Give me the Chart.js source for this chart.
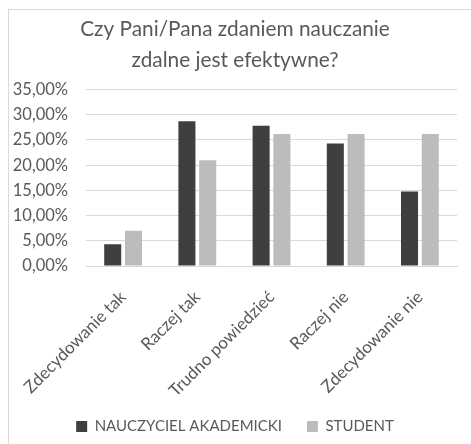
<!DOCTYPE html>
<html>
<head>
<meta charset="utf-8">
<script src="https://cdn.jsdelivr.net/npm/chart.js@4/dist/chart.umd.min.js"></script>
<style>
html,body{margin:0;padding:0;background:#fff;}
#wrap{width:471px;height:444px;position:relative;}
</style>
</head>
<body>
<div id="wrap"><canvas id="c" width="471" height="444"></canvas></div>
<script>
const categories = ["Zdecydowanie tak", "Raczej tak", "Trudno powiedzieć", "Raczej nie", "Zdecydowanie nie"];
const teacherValues = [4.3, 28.7, 27.8, 24.3, 14.8];
const studentValues = [7.0, 21.0, 26.2, 26.2, 26.2];
const seriesNames = ["NAUCZYCIEL AKADEMICKI", "STUDENT"];
const titleLines = ["Czy Pani/Pana zdaniem nauczanie", "zdalne jest efektywne?"];
const yMin = 0, yMax = 35, yStep = 5;

const FONT = "Lato, 'Open Sans', sans-serif";
const TXT = "#595959";
const PLOT_BOTTOM = 266;
const BOTTOM_PAD = 0;

const frame = {
  id: 'frame',
  beforeDraw(chart) {
    const ctx = chart.ctx;
    ctx.save();
    ctx.fillStyle = '#fff';
    ctx.fillRect(0, 0, chart.width, chart.height);
    ctx.strokeStyle = '#d9d9d9';
    ctx.lineWidth = 1;
    ctx.strokeRect(8.5, 9.5, 480, 480);
    ctx.restore();
  }
};

new Chart(document.getElementById('c'), {
  type: 'bar',
  data: {
    labels: categories,
    datasets: [
      { label: seriesNames[0], data: teacherValues, backgroundColor: '#3f3f3f' },
      { label: seriesNames[1], data: studentValues, backgroundColor: '#bcbcbf' }
    ]
  },
  plugins: [frame],
  options: {
    responsive: false,
    animation: false,
    devicePixelRatio: 1,
    layout: { padding: { left: 5, right: 6, top: 0, bottom: BOTTOM_PAD } },
    datasets: { bar: { categoryPercentage: 0.56, barPercentage: 0.82 } },
    plugins: {
      title: {
        display: true,
        text: titleLines,
        color: TXT,
        font: { family: FONT, size: 20.8, weight: 'normal', lineHeight: 1.48 },
        padding: { top: 14, bottom: 14 }
      },
      legend: {
        position: 'bottom',
        labels: {
          color: TXT,
          font: { family: FONT, size: 15 },
          boxWidth: 11, boxHeight: 11,
          padding: 25
        }
      },
      tooltip: { enabled: false }
    },
    scales: {
      x: {
        afterFit(scale) {
          const lg = scale.chart.legend;
          const lh = lg && lg.height ? lg.height : 50;
          scale.height = scale.chart.height - BOTTOM_PAD - lh - PLOT_BOTTOM;
        },
        grid: { display: false },
        border: { display: true, color: '#d9d9d9' },
        ticks: {
          color: TXT, font: { family: FONT, size: 17 },
          maxRotation: 45, minRotation: 45, padding: 13, labelOffset: 0
        }
      },
      y: {
        min: yMin, max: yMax,
        afterFit(scale) { scale.width = 81; },
        grid: { color: '#d9d9d9', drawTicks: false },
        border: { display: false },
        ticks: {
          stepSize: yStep, color: TXT, font: { family: FONT, size: 16.5 }, padding: 18,
          callback: v => v.toFixed(2).replace('.', ',') + '%'
        }
      },
      spacer: {
        type: 'linear',
        position: 'right',
        afterFit(scale) { scale.width = 8; },
        grid: { display: false },
        border: { display: false },
        ticks: { display: false }
      }
    }
  }
});
</script>
</body>
</html>
